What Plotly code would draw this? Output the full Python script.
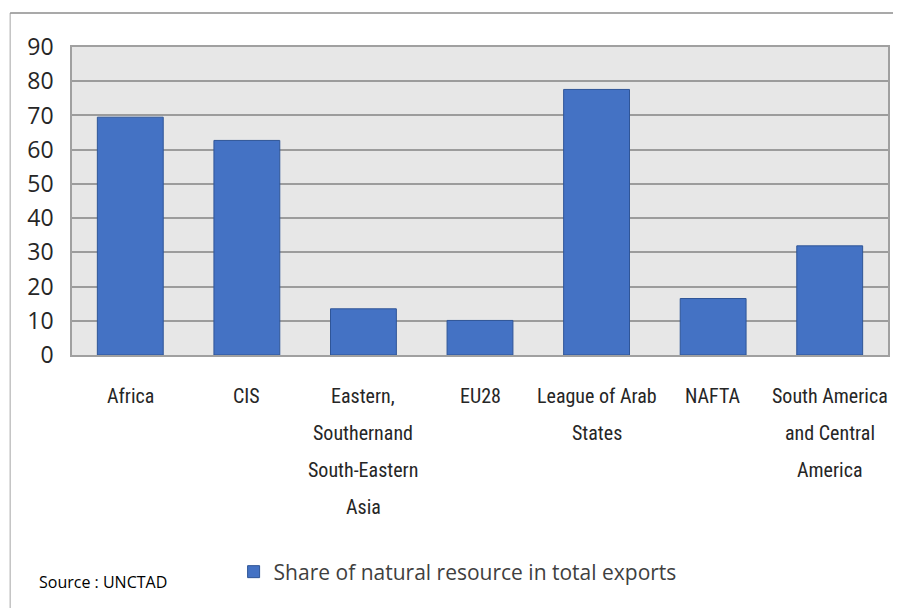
import plotly.graph_objects as go

categories = ["Africa", "CIS", "Eastern, Southern and South-Eastern Asia", "EU28",
              "League of Arab States", "NAFTA", "South America and Central America"]
label_lines = [["Africa"], ["CIS"], ["Eastern,", "Southernand", "South-Eastern", "Asia"], ["EU28"],
               ["League of Arab", "States"], ["NAFTA"], ["South America", "and Central", "America"]]
values = [69.5, 62.7, 13.5, 10.1, 77.6, 16.5, 31.9]
series_name = "Share of natural resource in total exports"
y_ticks = [0, 10, 20, 30, 40, 50, 60, 70, 80, 90]

OFF = 8  # page body margin
W, H = 901 - OFF, 608 - OFF
# target plot area in window pixels: x 72..890, y 47..355
L = 72 - OFF
T = 47 - OFF
R = W - (890 - OFF)
B = H - (355 - OFF)
pw = W - L - R
ph = H - T - B


def px(xw):
    return (xw - OFF - L) / pw


def py(yw):
    return (H - B - (yw - OFF)) / ph


fig = go.Figure()
fig.add_trace(go.Bar(
    x=categories, y=values, name=series_name,
    marker=dict(color="#4472C4", line=dict(color="#2F5597", width=1)),
    showlegend=True,
))

annotations = []
for cat, lines in zip(categories, label_lines):
    for i, line in enumerate(lines):
        annotations.append(dict(
            x=cat, xref="x", y=0, yref="paper", yanchor="middle", xanchor="center",
            yshift=-(41 + 37 * i), text=line, showarrow=False,
            font=dict(family="Liberation Sans Narrow, Roboto Condensed, Liberation Sans, sans-serif",
                      size=20, color="#262626"),
        ))
annotations.append(dict(
    x=px(37), xref="paper", xanchor="left",
    y=py(582), yref="paper", yanchor="middle",
    text="Source : UNCTAD", showarrow=False,
    font=dict(family="Open Sans, sans-serif", size=16, color="#000000"),
))

shapes = [
    dict(type="line", xref="paper", yref="paper",
         x0=px(10), x1=px(10), y0=py(13), y1=py(620),
         line=dict(color="#a6a6a6", width=1)),
    dict(type="line", xref="paper", yref="paper",
         x0=px(10), x1=px(920), y0=py(13), y1=py(13),
         line=dict(color="#8c8c8c", width=1.5)),
]

fig.update_layout(
    width=W, height=H,
    margin=dict(l=L, r=R, t=T, b=B),
    paper_bgcolor="white",
    plot_bgcolor="#e7e7e7",
    bargap=0.435,
    annotations=annotations,
    shapes=shapes,
    legend=dict(orientation="h", x=px(234), xanchor="left",
                y=py(572), yanchor="middle",
                font=dict(family="Open Sans, sans-serif", size=21, color="#404040"),
                bgcolor="rgba(0,0,0,0)"),
    xaxis=dict(showticklabels=False, showgrid=False, ticks="",
               showline=True, linecolor="#a0a0a0", linewidth=1.5, mirror=True,
               range=[-0.5, 6.5]),
    yaxis=dict(range=[0, 90], tickvals=y_ticks, showgrid=True, gridcolor="#9c9c9c", gridwidth=1.5,
               showline=True, linecolor="#a0a0a0", linewidth=1.5, mirror=True,
               zeroline=False, ticks="", ticklabelstandoff=12,
               tickfont=dict(family="Open Sans, sans-serif", size=23, color="#262626")),
)

fig.write_html("out.html")
